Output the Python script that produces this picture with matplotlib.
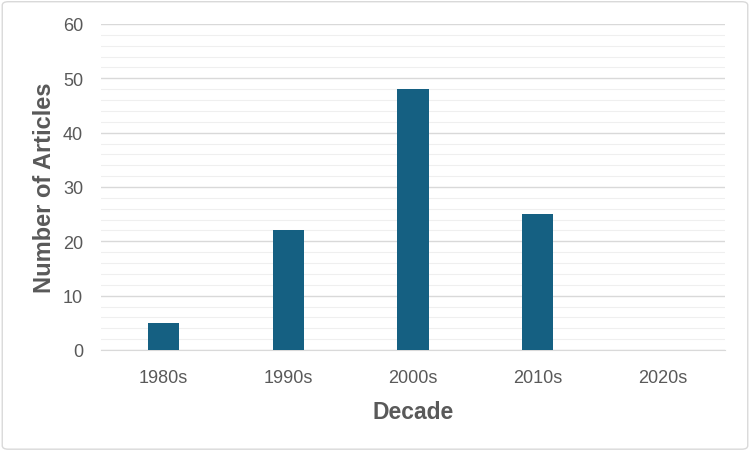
import matplotlib.pyplot as plt
from matplotlib.patches import FancyBboxPatch
import numpy as np

decades = ["1980s", "1990s", "2000s", "2010s", "2020s"]
articles = [5, 22, 48, 25, 0]

plt.rcParams['font.family'] = ['Liberation Sans', 'DejaVu Sans']

fig = plt.figure(figsize=(7.5, 4.52), dpi=100)
ax = fig.add_axes([0.1347, 0.2235, 0.832, 0.7212])

x = np.arange(len(decades))
ax.bar(x, articles, width=0.25, color='#156082', zorder=3)

ax.set_xlim(-0.5, len(decades) - 0.5)
ax.set_ylim(0, 60)
ax.set_yticks(range(0, 61, 10))
ax.set_yticks(range(0, 61, 2), minor=True)
ax.set_xticks(x)
ax.set_xticklabels(decades)
ax.grid(axis='y', which='major', color='#d9d9d9', linewidth=1.0, zorder=0)
ax.grid(axis='y', which='minor', color='#efefef', linewidth=0.8, zorder=0)
ax.tick_params(axis='both', which='both', length=0, colors='#595959', labelsize=13)
ax.tick_params(axis='x', pad=14)
ax.tick_params(axis='y', pad=13)
for s in ['top', 'right', 'left']:
    ax.spines[s].set_visible(False)
ax.spines['bottom'].set_color('#d9d9d9')

ax.set_xlabel("Decade", fontsize=16.5, fontweight='bold', color='#595959', labelpad=10)
ax.set_ylabel("Number of Articles", fontsize=17, fontweight='bold', color='#595959', labelpad=5)

border = FancyBboxPatch((0.003, 0.004), 0.994, 0.99, boxstyle="round,pad=0,rounding_size=0.008",
                        transform=fig.transFigure, facecolor='none', edgecolor='#d9d9d9', linewidth=1)
fig.patches.append(border)

fig.savefig("out.png", dpi=100)
